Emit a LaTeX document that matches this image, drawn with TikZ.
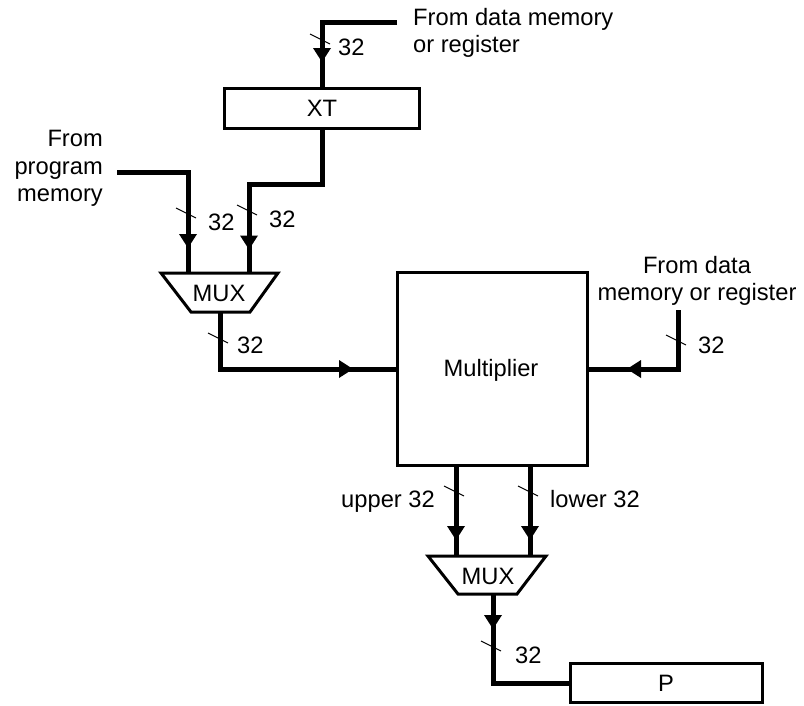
\documentclass[tikz,border=0pt]{standalone}
\usepackage{fontspec}
\setmainfont{Liberation Sans}
\usetikzlibrary{decorations.markings}
\tikzset{
  every node/.style={font=\fontsize{23.7}{27.5}\selectfont, inner sep=0pt},
  bus/.style={line width=5pt},
  box/.style={draw, line width=3pt, rectangle},
  muxshape/.style={draw, line width=3pt, line join=miter},
  tickmark/.style={line width=1pt},
  midarrow/.style={postaction={decorate}, decoration={markings,
      mark=at position #1 with {\fill (-14pt,-9pt) -- (0pt,0pt) -- (-14pt,9pt) -- cycle;}}},
  lbl/.style={anchor=base west},
}
\begin{document}
\begin{tikzpicture}[x=1pt,y=-1pt]
\useasboundingbox (0,0) rectangle (804,705);

% boxes
\node[box, minimum width=195, minimum height=40] (XT) at (322,108) {XT};
\node[box, minimum width=190, minimum height=193] (mult) at (492,369) {};
\node[anchor=base] (multtxt) at (491,376) {Multiplier};
\node[box, minimum width=192, minimum height=39] (P) at (666,683) {P};

% MUX 1
\draw[muxshape] (161,273) -- (278,273) -- (250,312) -- (191,312) -- cycle;
\node (mux1) at (219,293) {MUX};
\coordinate (m1a) at (188,273);
\coordinate (m1b) at (249,273);
\coordinate (m1o) at (220,312);

% MUX 2
\draw[muxshape] (428,556) -- (546,556) -- (517,594) -- (458,594) -- cycle;
\node (mux2) at (488,576) {MUX};
\coordinate (m2a) at (456,556);
\coordinate (m2b) at (530,556);
\coordinate (m2o) at (493,594);

% free ends
\coordinate (dmin) at (397,22);
\coordinate (pm) at (117,172);
\coordinate (rin) at (678,310);

% connectors
\draw[bus, midarrow=115pt] (dmin) -- (dmin -| XT.north) -- (XT.north);
\draw[bus, midarrow=193pt] (XT.south) -- ++(0,55) -| (m1b);
\draw[bus, midarrow=147pt] (pm) -| (m1a);
\draw[bus, midarrow=190pt] (m1o) |- (mult.west);
\draw[bus, midarrow=110pt] (rin) |- (mult.east);
\draw[bus, midarrow=73pt] (m2a |- mult.south) -- (m2a);
\draw[bus, midarrow=73pt] (m2b |- mult.south) -- (m2b);
\draw[bus, midarrow=35pt] (m2o) |- (P.west);

% bus width ticks
\foreach \p in {(322,40),(188,214),(249,211),(220,339),(678,341),(456,492),(530,492),(493,647)}
  \draw[tickmark] \p ++(-12,-6) -- ++(20,10);

% labels
\node[anchor=north west, align=left] (t1) at (413,8) {From data memory\\or register};
\node[anchor=north east, align=right] (t2) at (103,130) {From\\program\\memory};
\node[anchor=north, align=center] (t3) at (697,256) {From data\\memory or register};

\node[lbl] (w1) at (338,55) {32};
\node[lbl] (w2) at (208,230) {32};
\node[lbl] (w3) at (269,227) {32};
\node[lbl] (w4) at (237,353) {32};
\node[lbl] (w5) at (698,353) {32};
\node[anchor=base east] (w6) at (435,507) {upper 32};
\node[lbl] (w7) at (550,507) {lower 32};
\node[lbl] (w8) at (515,663) {32};
\end{tikzpicture}
\end{document}
